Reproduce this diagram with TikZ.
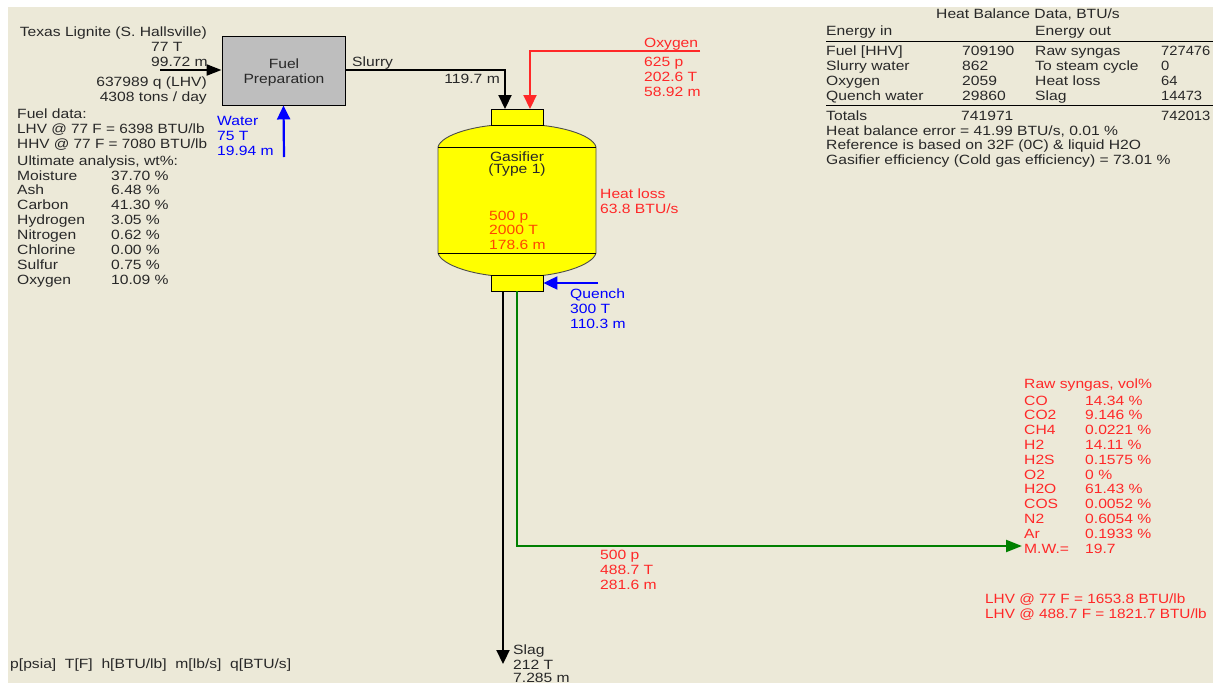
\documentclass[tikz,border=0pt]{standalone}
\usepackage{fontspec}
\setmainfont{Liberation Sans}
\newfontfamily\panelfont[FakeStretch=1.168]{Liberation Sans}
\newfontfamily\midfont[FakeStretch=1.145]{Liberation Sans}
\newfontfamily\numfont[FakeStretch=1.1]{Liberation Sans}
\usepackage{xcolor}
\usetikzlibrary{arrows.meta}
\definecolor{panelcream}{RGB}{236, 233, 216}
\definecolor{fuelgray}{RGB}{190, 190, 190}
\definecolor{streamred}{RGB}{255, 40, 40}
\definecolor{streamgreen}{RGB}{0, 128, 0}
\definecolor{streamblue}{RGB}{0, 0, 255}
\definecolor{darktext}{RGB}{40, 40, 40}
\definecolor{hotorange}{RGB}{255, 70, 0}
\definecolor{vesselyellow}{RGB}{255, 255, 0}
\tikzset{
    txt/.style={inner sep=0pt,anchor=base west,font=\panelfont\fontsize{13.4}{15}\selectfont,text=darktext},
    txtmid/.style={font=\midfont\fontsize{13.4}{15}\selectfont},
    txtnum/.style={font=\numfont\fontsize{13.4}{15}\selectfont},
    txtr/.style={txt,anchor=base east},
    redtxt/.style={txt,text=streamred},
    bluetxt/.style={txt,text=streamblue},
    hottxt/.style={txt,text=hotorange},
    stream/.style={line width=2.2pt,-{Triangle[length=14pt,width=13pt]}},
    nozzle/.style={draw=black,fill=vesselyellow,line width=0.9pt,minimum width=52pt,minimum height=16pt,inner sep=0pt},
}
\begin{document}
\begin{tikzpicture}[x=1pt,y=-1pt]
    \useasboundingbox (0,0) rectangle (1213,683);
    \fill[panelcream] (8,7) rectangle (1213,683);

    % fuel preparation
    \node[draw=black,fill=fuelgray,line width=0.9pt,minimum width=123pt,minimum height=69pt,inner sep=0pt] (fuel) at (283.5,70.5) {};
    \node[txt,anchor=base] (fuel1) at (284,68) {Fuel};
    \node[txt,anchor=base] (fuel2) at (284,83) {Preparation};

    % gasifier vessel
    \draw[fill=vesselyellow,draw=black!70,line width=0.9pt] (438,147) .. controls (441,135) and (475,124) .. (517,124)
        .. controls (559,124) and (593,135) .. (596,147) -- (596,253)
        .. controls (593,265) and (559,277) .. (517,277) .. controls (475,277) and (441,265) .. (438,253) -- cycle;
    \draw[line width=0.9pt] (438,147) -- (596,147);
    \draw[line width=0.9pt] (438,253) -- (596,253);
    \node[nozzle] (topnoz) at (517,117) {};
    \node[nozzle] (botnoz) at (517,283) {};

    % streams
    \coordinate (coalin) at (160,70);
    \coordinate (waterin) at (284,157);
    \coordinate (slurrybend) at (505,70);
    \coordinate (slurryend) at (505,109);
    \coordinate (oxyin) at (700,51);
    \coordinate (oxyend) at (530,109);
    \coordinate (quenchin) at (598,283);
    \coordinate (slagstart) at (503,291);
    \coordinate (slagend) at (503,664);
    \coordinate (gasstart) at (517,291);
    \coordinate (gasend) at (1022,546);
    \draw[stream,-{Triangle[length=15pt,width=11pt]}] (coalin) -- (fuel.west |- coalin);
    \draw[stream,streamblue] (waterin) -- (fuel.south);
    \draw[stream] (fuel.east |- slurrybend) -- (slurrybend) -- (slurryend);
    \draw[stream,streamred] (oxyin) -| (oxyend);
    \draw[stream,streamblue] (quenchin) -- (botnoz.east);
    \draw[stream] (slagstart) -- (slagend);
    \draw[stream,streamgreen,-{Triangle[length=16pt,width=12pt]}] (gasstart) |- (gasend);

    % coal labels
    \node[txtr] (coal) at (207,36) {Texas Lignite (S. Hallsville)};
    \node[txt] (coalT) at (151,51) {77 T};
    \node[txt] (coalm) at (151,66) {99.72 m};
    \node[txtr] (coalq) at (207,86) {637989 q (LHV)};
    \node[txtr] (coalt) at (207,101) {4308 tons / day};
    \node[txt] (fd0) at (17,118) {Fuel data:};
    \node[txt,txtmid] (fd1) at (17,133) {LHV @ 77 F = 6398 BTU/lb};
    \node[txt,txtmid] (fd2) at (17,148) {HHV @ 77 F = 7080 BTU/lb};
    \node[txt] (ua) at (17,165) {Ultimate analysis, wt\%:};
    \foreach \nm/\val [count=\i] in {Moisture/37.70 \%,Ash/6.48 \%,Carbon/41.30 \%,Hydrogen/3.05 \%,Nitrogen/0.62 \%,Chlorine/0.00 \%,Sulfur/0.75 \%,Oxygen/10.09 \%}{
        \node[txt] (ua\i) at (17,{180+14.86*(\i-1)}) {\nm};
        \node[txt] (uv\i) at (111,{180+14.86*(\i-1)}) {\val};
    }

    % stream labels
    \node[txt] (slurry) at (352,66) {Slurry};
    \node[txtr] (slurrym) at (500,83) {119.7 m};
    \node[bluetxt] (water) at (217,125) {Water};
    \node[bluetxt] (waterT) at (217,140) {75 T};
    \node[bluetxt] (waterm) at (217,155) {19.94 m};
    \node[redtxt] (oxy) at (644,47) {Oxygen};
    \node[redtxt] (oxyp) at (644,66) {625 p};
    \node[redtxt] (oxyT) at (644,81) {202.6 T};
    \node[redtxt] (oxym) at (644,96) {58.92 m};
    \node[txt,anchor=base] (gas1) at (517,161) {Gasifier};
    \node[txt,anchor=base] (gas2) at (517,173) {(Type 1)};
    \node[hottxt] (gasp) at (489,220) {500 p};
    \node[hottxt] (gasT) at (489,234) {2000 T};
    \node[hottxt] (gasm) at (489,249) {178.6 m};
    \node[redtxt] (hl1) at (600,198) {Heat loss};
    \node[redtxt] (hl2) at (600,213) {63.8 BTU/s};
    \node[bluetxt] (qu) at (570,298) {Quench};
    \node[bluetxt] (quT) at (570,313) {300 T};
    \node[bluetxt] (qum) at (570,328) {110.3 m};
    \node[redtxt] (rawp) at (600,559) {500 p};
    \node[redtxt] (rawT) at (600,574) {488.7 T};
    \node[redtxt] (rawm) at (600,589) {281.6 m};
    \node[txt] (slag) at (513,654) {Slag};
    \node[txt] (slagT) at (513,669) {212 T};
    \node[txt] (slagm) at (513,682) {7.285 m};
    \node[txt] (units) at (10,668) {p[psia]\ \ T[F]\ \ h[BTU/lb]\ \ m[lb/s]\ \ q[BTU/s]};

    % heat balance table
    \node[txt] (hb) at (936,18) {Heat Balance Data, BTU/s};
    \node[txt] (ein) at (826,35) {Energy in};
    \node[txt] (eout) at (1035,35) {Energy out};
    \draw[line width=0.8pt] (ein.south west |- 0,41) -- (1213,41);
    \foreach \a/\b/\c/\d [count=\i] in {Fuel [HHV]/709190/Raw syngas/727476,Slurry water/862/To steam cycle/0,Oxygen/2059/Heat loss/64,Quench water/29860/Slag/14473}{
        \node[txt] (hba\i) at (826,{55+15*(\i-1)}) {\a};
        \node[txt] (hbb\i) at (962,{55+15*(\i-1)}) {\b};
        \node[txt] (hbc\i) at (1035,{55+15*(\i-1)}) {\c};
        \node[txt,txtnum] (hbd\i) at (1161,{55+15*(\i-1)}) {\d};
    }
    \draw[line width=0.8pt] (826,105) -- (1213,105);
    \node[txt] (tot) at (826,120) {Totals};
    \node[txt] (totin) at (961,120) {741971};
    \node[txt,txtnum] (totout) at (1161,120) {742013};
    \node[txt] (err) at (826,135) {Heat balance error = 41.99 BTU/s, 0.01 \%};
    \node[txt] (ref) at (826,149) {Reference is based on 32F (0C) \& liquid H2O};
    \node[txt] (eff) at (826,164) {Gasifier efficiency (Cold gas efficiency) = 73.01 \%};

    % raw syngas table
    \node[redtxt] (rs) at (1024,388) {Raw syngas, vol\%};
    \foreach \nm/\val [count=\i] in {CO/14.34 \%,CO2/9.146 \%,CH4/0.0221 \%,H2/14.11 \%,H2S/0.1575 \%,O2/0 \%,H2O/61.43 \%,COS/0.0052 \%,N2/0.6054 \%,Ar/0.1933 \%,M.W.=/19.7}{
        \node[redtxt] (rsa\i) at (1024,{405+14.8*(\i-1)}) {\nm};
        \node[redtxt] (rsb\i) at (1085,{405+14.8*(\i-1)}) {\val};
    }
    \node[redtxt,txtmid] (lhv1) at (985,603) {LHV @ 77 F = 1653.8 BTU/lb};
    \node[redtxt,txtmid] (lhv2) at (985,618) {LHV @ 488.7 F = 1821.7 BTU/lb};
\end{tikzpicture}
\end{document}
